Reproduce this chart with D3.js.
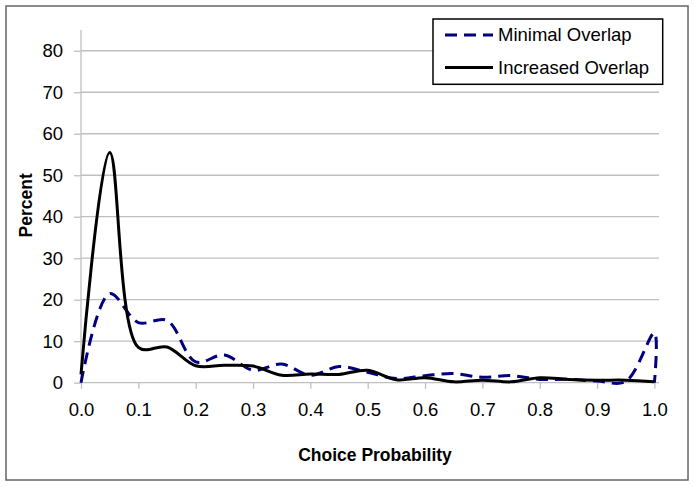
<!DOCTYPE html>
<html>
<head>
<meta charset="utf-8">
<script src="https://cdn.jsdelivr.net/npm/d3@7/dist/d3.min.js"></script>
<style>
  html, body { margin: 0; padding: 0; background: #fff; }
  svg { display: block; }
  text { font-family: "Liberation Sans", Arial, sans-serif; fill: #000; }
</style>
</head>
<body>
<div id="chart"></div>
<script>
// ---------- data ----------
const probMinimal = [0, 0.05, 0.10, 0.15, 0.20, 0.25, 0.30, 0.35, 0.40, 0.45, 0.50,
                     0.55, 0.60, 0.65, 0.70, 0.75, 0.80, 0.85, 0.90, 0.95, 1.00, 1.00];
const minimalOverlap = [0, 21.5, 14.5, 15.0, 5.0, 6.7, 3.0, 4.5, 1.8, 3.9, 2.5,
                        1.0, 1.7, 2.2, 1.3, 1.7, 0.8, 0.8, 0.4, 0.3, 12.0, 0];
const probIncreased = [0, 0.05, 0.10, 0.15, 0.20, 0.25, 0.30, 0.35, 0.40, 0.45, 0.50,
                       0.55, 0.60, 0.65, 0.70, 0.75, 0.80, 0.85, 0.90, 0.95, 1.00];
const increasedOverlap = [2.0, 55.5, 8.5, 8.6, 4.1, 4.2, 4.0, 1.8, 2.1, 2.0, 3.0,
                          0.7, 1.2, 0.2, 0.6, 0.2, 1.2, 0.8, 0.6, 0.6, 0.2];
const seriesNames = ["Minimal Overlap", "Increased Overlap"];
const xTickValues = [0, 0.1, 0.2, 0.3, 0.4, 0.5, 0.6, 0.7, 0.8, 0.9, 1.0];
const yTickValues = [0, 10, 20, 30, 40, 50, 60, 70, 80];
const xTitle = "Choice Probability";
const yTitle = "Percent";

// ---------- layout ----------
const W = 695, H = 487;
const plot = { left: 81, right: 659, top: 30, bottom: 382.7 };
const gridColor = "#c0c0c0";
const navy = "#000080";

const svg = d3.select("#chart").append("svg")
  .attr("width", W).attr("height", H);

// outer chart border
svg.append("rect")
  .attr("x", 6).attr("y", 6).attr("width", 682).attr("height", 474)
  .attr("fill", "#fff").attr("stroke", "#666").attr("stroke-width", 1.5);

const x = d3.scaleLinear().domain([0, 1.008]).range([plot.left, plot.right]);
const y = d3.scaleLinear().domain([0, 85]).range([plot.bottom, plot.top]);

// gridlines
svg.append("g").selectAll("line").data(yTickValues.filter(d => d > 0)).join("line")
  .attr("x1", plot.left).attr("x2", plot.right)
  .attr("y1", d => y(d)).attr("y2", d => y(d))
  .attr("stroke", gridColor).attr("stroke-width", 1.3);

// y axis
const yAxis = svg.append("g").attr("transform", `translate(${plot.left},0)`)
  .call(d3.axisLeft(y).tickValues(yTickValues).tickSize(7).tickPadding(11).tickFormat(d3.format("d")));
yAxis.select(".domain").attr("stroke", gridColor).attr("stroke-width", 1.3)
  .attr("d", `M0,${plot.top}V${plot.bottom}`);
yAxis.selectAll(".tick line").attr("stroke", gridColor).attr("stroke-width", 1.3);
yAxis.selectAll(".tick text").attr("font-size", "18.5px").attr("fill", "#000")
  .attr("font-family", "Liberation Sans, Arial, sans-serif");

// x axis
const xAxis = svg.append("g").attr("transform", `translate(0,${plot.bottom})`)
  .call(d3.axisBottom(x).tickValues(xTickValues).tickSize(6).tickPadding(14).tickFormat(d3.format(".1f")));
xAxis.select(".domain").attr("stroke", gridColor).attr("stroke-width", 1.3)
  .attr("d", `M${plot.left},0H${plot.right}`);
xAxis.selectAll(".tick line").attr("stroke", gridColor).attr("stroke-width", 1.3);
xAxis.selectAll(".tick text").attr("font-size", "18.5px").attr("fill", "#000")
  .attr("font-family", "Liberation Sans, Arial, sans-serif");

// lines (smoothed)
const line = d3.line()
  .x(d => x(d[0])).y(d => y(d[1]))
  .curve(d3.curveCatmullRom.alpha(0.5));

const minData = probMinimal.map((p, i) => [p, minimalOverlap[i]]);
const incData = probIncreased.map((p, i) => [p, increasedOverlap[i]]);

svg.append("path").datum(minData)
  .attr("d", line).attr("fill", "none")
  .attr("stroke", navy).attr("stroke-width", 3)
  .attr("stroke-dasharray", "12,7");

svg.append("path").datum(incData)
  .attr("d", line).attr("fill", "none")
  .attr("stroke", "#000").attr("stroke-width", 3);

// axis titles
svg.append("text")
  .attr("x", (plot.left + plot.right) / 2 + 5).attr("y", 460.5)
  .attr("text-anchor", "middle").attr("font-weight", "bold").attr("font-size", "17.5px")
  .text(xTitle);

svg.append("text")
  .attr("transform", `translate(32,${(plot.top + plot.bottom) / 2 - 1}) rotate(-90)`)
  .attr("text-anchor", "middle").attr("font-weight", "bold").attr("font-size", "17.5px")
  .text(yTitle);

// legend
const legend = svg.append("g");
legend.append("rect")
  .attr("x", 433).attr("y", 19).attr("width", 229.7).attr("height", 65.3)
  .attr("fill", "#fff").attr("stroke", "#000").attr("stroke-width", 1.5);
const legendItems = [
  { name: seriesNames[0], color: navy, dash: "12,7" },
  { name: seriesNames[1], color: "#000", dash: null }
];
legendItems.forEach((it, i) => {
  const cy = 35 + i * 32.5;
  legend.append("line")
    .attr("x1", 445).attr("x2", 493).attr("y1", cy).attr("y2", cy)
    .attr("stroke", it.color).attr("stroke-width", 3)
    .attr("stroke-dasharray", it.dash);
  legend.append("text")
    .attr("x", 498).attr("y", cy).attr("dy", "0.35em")
    .attr("font-size", "18.5px")
    .text(it.name);
});
</script>
</body>
</html>
